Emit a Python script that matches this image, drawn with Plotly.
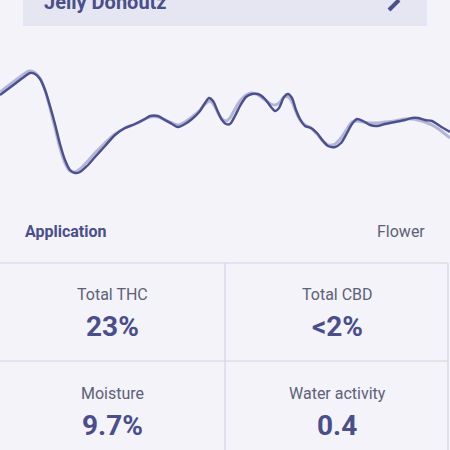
import plotly.graph_objects as go

# Spectrum-like trace data (x position, signal value)
x_dark = [0, 8, 16, 24, 30, 35, 40, 45, 50, 55, 60, 65, 70, 75, 80, 87, 95, 105, 115, 125,
          135, 145, 150, 158, 165, 172, 178, 185, 192, 200, 205, 209, 213, 218, 222, 226,
          230, 235, 240, 246, 252, 258, 265, 271, 275, 279, 284, 288, 292, 296, 300, 305,
          311, 317, 323, 328, 335, 341, 347, 352, 357, 363, 370, 377, 385, 395, 405, 412,
          418, 425, 432, 440, 450]
y_dark = [105, 111, 117, 123, 127, 126, 121, 110, 94, 76, 56, 40, 30, 27, 28, 34, 43, 54, 65, 72,
          76, 81, 84, 84, 80, 76, 73, 76, 81, 89, 97, 102, 99, 88, 80, 76,
          76, 84, 94, 103, 106, 106, 101, 93, 89, 92, 103, 106, 102, 90, 81, 74,
          72, 67, 59, 54, 53, 57, 67, 76, 81, 79, 75, 74, 76, 78, 80, 82,
          82, 80, 79, 74, 68]

x_light = [0, 8, 16, 24, 29, 34, 40, 45, 50, 55, 60, 65, 70, 75, 80, 87, 95, 105, 115, 125,
           135, 145, 150, 158, 165, 172, 178, 185, 192, 200, 205, 210, 214, 218, 222, 226,
           230, 235, 240, 246, 252, 258, 265, 271, 275, 279, 284, 288, 292, 296, 300, 305,
           311, 317, 323, 328, 335, 341, 347, 352, 357, 363, 370, 377, 385, 395, 405, 412,
           418, 425, 432, 440, 450]
y_light = [108, 114, 120, 126, 129, 128, 122, 110, 92, 72, 52, 37, 29, 28, 31, 38, 47, 57, 66, 72,
           76, 81, 83, 83, 80, 77, 75, 78, 83, 90, 96, 99, 95, 87, 81, 79,
           82, 91, 99, 105, 107, 105, 100, 96, 95, 97, 103, 103, 98, 88, 80, 75,
           72, 66, 59, 55, 56, 62, 71, 78, 79, 78, 77, 77, 78, 79, 81, 81,
           80, 78, 75, 70, 62]

title_text = "Jelly Donoutz"
app_label = "Application"
app_value = "Flower"
cell_labels = ["Total THC", "Total CBD", "Moisture", "Water activity"]
cell_values = ["23%", "<2%", "9.7%", "0.4"]

BG = "#f3f3f9"
DARK = "#4b4f8e"
LIGHT = "#b2b5d6"
GRID = "#d4d4e4"
TXT = "#4a4e8c"
GRAY = "#5d6078"
FONT = "Roboto"

W, H = 450, 450
def px(x):
    return x / W
def py(y):
    return 1 - y / H

fig = go.Figure()
fig.add_trace(go.Scatter(x=x_light, y=y_light, mode="lines",
                         line=dict(color=LIGHT, width=3, shape="spline", smoothing=0.8),
                         hoverinfo="skip"))
fig.add_trace(go.Scatter(x=x_dark, y=y_dark, mode="lines",
                         line=dict(color=DARK, width=2.4, shape="spline", smoothing=0.8),
                         hoverinfo="skip"))

shapes = [
    # header box
    dict(type="rect", xref="paper", yref="paper", x0=px(23), x1=px(427), y0=py(26), y1=py(-20),
         fillcolor="#e6e6f2", line=dict(width=0), layer="below"),
    # edit icon stroke
    dict(type="line", xref="paper", yref="paper", x0=px(389), y0=py(10), x1=px(399), y1=py(0),
         line=dict(color=TXT, width=4)),
    # grid lines
    dict(type="line", xref="paper", yref="paper", x0=0, x1=px(448), y0=py(263), y1=py(263),
         line=dict(color=GRID, width=1.2)),
    dict(type="line", xref="paper", yref="paper", x0=0, x1=px(448), y0=py(361), y1=py(361),
         line=dict(color=GRID, width=1.2)),
    dict(type="line", xref="paper", yref="paper", x0=px(225), x1=px(225), y0=py(263), y1=py(452),
         line=dict(color=GRID, width=1.2)),
    dict(type="line", xref="paper", yref="paper", x0=px(448), x1=px(448), y0=py(263), y1=py(452),
         line=dict(color=GRID, width=1.2)),
]

ann = [
    dict(text="<b>%s</b>" % title_text, x=px(42), y=py(2), xanchor="left", yanchor="middle",
         font=dict(family=FONT, size=20, color=TXT)),
    dict(text="<b>%s</b>" % app_label, x=px(23), y=py(231), xanchor="left", yanchor="middle",
         font=dict(family=FONT, size=16, color=TXT)),
    dict(text=app_value, x=px(427), y=py(231), xanchor="right", yanchor="middle",
         font=dict(family=FONT, size=16, color=GRAY)),
]
cx = [112, 337, 112, 337]
ly = [294, 294, 393, 393]
vy = [326, 326, 425, 425]
for i in range(4):
    ann.append(dict(text=cell_labels[i], x=px(cx[i]), y=py(ly[i]), xanchor="center", yanchor="middle",
                    font=dict(family=FONT, size=16, color=GRAY)))
    ann.append(dict(text="<b>%s</b>" % cell_values[i], x=px(cx[i]), y=py(vy[i]), xanchor="center",
                    yanchor="middle", font=dict(family=FONT, size=28, color=TXT)))
for a in ann:
    a.update(xref="paper", yref="paper", showarrow=False)

fig.update_layout(
    width=W, height=H, margin=dict(l=0, r=0, t=0, b=0),
    paper_bgcolor=BG, plot_bgcolor=BG, showlegend=False,
    xaxis=dict(range=[0, 450], domain=[0, 1], visible=False, fixedrange=True),
    yaxis=dict(range=[0, 200], domain=[py(200), 1], visible=False, fixedrange=True),
    shapes=shapes, annotations=ann,
)

fig.write_html("out.html", config={"displayModeBar": False, "staticPlot": True},
               post_script="document.body.style.margin='0';document.body.style.background='%s';" % BG)
